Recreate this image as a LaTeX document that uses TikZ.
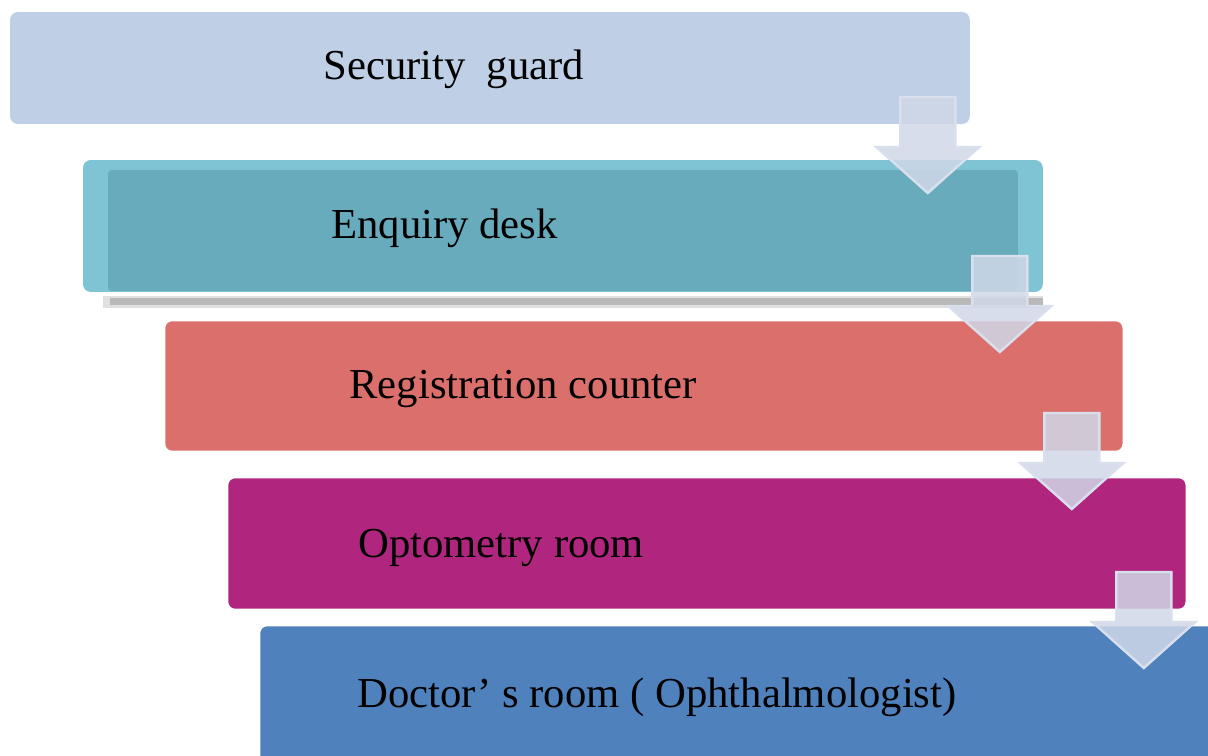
\documentclass[tikz,border=0pt]{standalone}
\usepackage{fontspec}
\setmainfont{Liberation Serif}
\usetikzlibrary{calc}

\definecolor{guardblue}{HTML}{BFD0E6}
\definecolor{enquiryedge}{HTML}{7EC4D5}
\definecolor{enquiryteal}{HTML}{68ABBD}
\definecolor{regred}{HTML}{DB6F6B}
\definecolor{optomag}{HTML}{B0267E}
\definecolor{docblue}{HTML}{4F81BD}
\definecolor{arrowfill}{HTML}{D0D8E8}
\definecolor{arrowedge}{HTML}{D9DFEC}

\newcommand{\downblock}[3]{%
  \draw[flow] ($(#1.south east)+(#2,#3)$) ++(-27.5,0) -- ++(55,0) -- ++(0,50)
    -- ++(24,0) -- ++(-51.5,46) -- ++(-51.5,-46) -- ++(24,0) -- cycle;}

\begin{document}
\begin{tikzpicture}[x=0.02cm,y=-0.02cm,
    stage/.style={rectangle,rounded corners=4.5pt,draw=white,line width=1.5pt,anchor=north west,
      minimum width=19.2cm,minimum height=2.64cm,inner sep=0pt,outer sep=0pt},
    stagetext/.style={anchor=base west,inner sep=0pt,font=\fontsize{24.3}{28}\selectfont},
    flow/.style={fill=arrowfill,fill opacity=0.85,draw=arrowedge,line width=1.4pt,line join=miter}]
  \clip (0,0) rectangle (1208,755);
  \fill[white] (0,0) rectangle (1208,755);
  % the five stages
  \node [stage,draw=none,fill=guardblue,minimum height=2.24cm] (guard) at (10,12) {};
  \fill [black!12] (103,296) rectangle (1043,308);
  \fill [black!28] (110,298) rectangle (1043,305);
  \node [stage,draw=none,fill=enquiryedge] (enquiry) at (83,160) {};
  \node [stage,draw=none,fill=enquiryteal,rounded corners=2pt,minimum width=18.2cm,minimum height=2.42cm] (enquiryin) at (108,170) {};
  \node [stage,fill=regred] (registration) at (164,320) {};
  \node [stage,fill=optomag,minimum height=2.66cm] (optometry) at (227,477) {};
  \node [stage,fill=docblue,minimum height=2.8cm] (doctor) at (259,625) {};
  % texts
  \node [stagetext] (guardtext) at (323,79) {Security\ \ guard};
  \node [stagetext] (enquirytext) at (331,238) {Enquiry desk};
  \node [stagetext] (registrationtext) at (349,398) {Registration counter};
  \node [stagetext] (optometrytext) at (358,557) {Optometry room};
  \node [stagetext] (doctortext) at (357,707) {Doctor’ s room ( Ophthalmologist)};
  % block arrows between stages
  \downblock{guard}{-42}{-27}
  \downblock{enquiry}{-43}{-36}
  \downblock{registration}{-52}{-39}
  \downblock{optometry}{-43}{-38}
\end{tikzpicture}
\end{document}
